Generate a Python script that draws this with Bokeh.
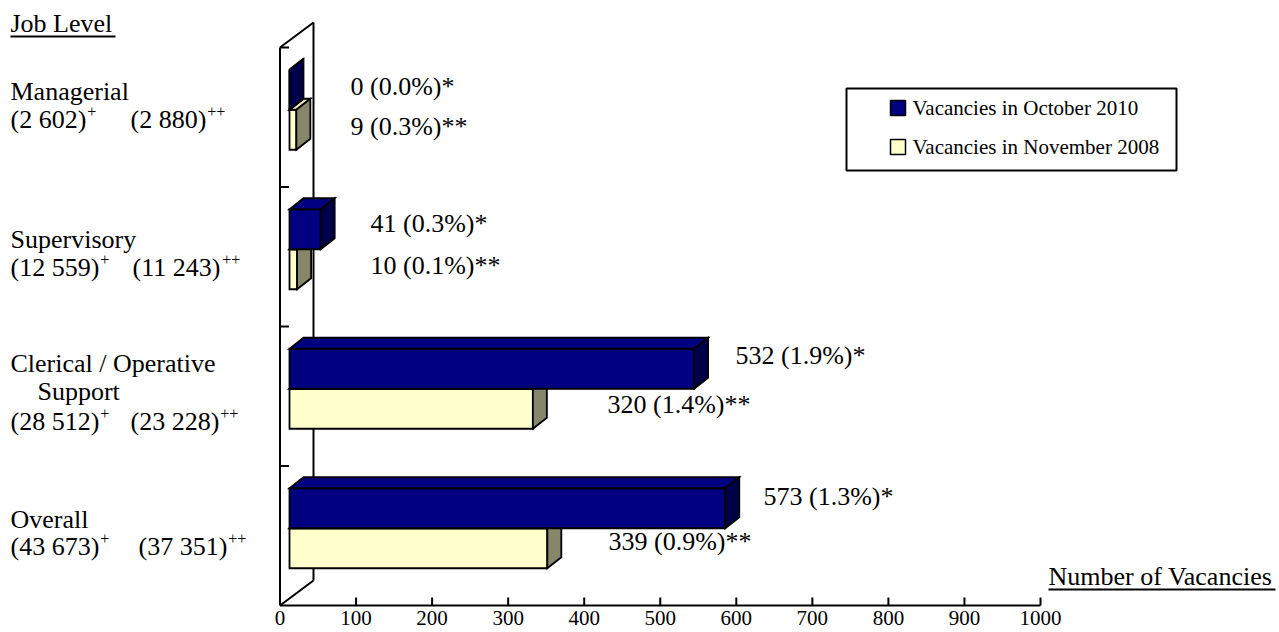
from bokeh.plotting import figure
from bokeh.models import Range1d
from bokeh.core.properties import value
from bokeh.embed import file_html
from bokeh.resources import INLINE

# ---------------- data ----------------
categories = ["Overall", "Clerical / Operative", "Supervisory", "Managerial"]
category_extra_line = ["", "Support", "", ""]
staff_2010 = ["43 673", "28 512", "12 559", "2 602"]      # marked +
staff_2008 = ["37 351", "23 228", "11 243", "2 880"]      # marked ++
vac_oct_2010 = [573, 532, 41, 0]
vac_nov_2008 = [339, 320, 10, 9]
pct_oct_2010 = ["1.3", "1.9", "0.3", "0.0"]
pct_nov_2008 = ["0.9", "1.4", "0.1", "0.3"]
x_ticks = [0, 100, 200, 300, 400, 500, 600, 700, 800, 900, 1000]
series_names = ["Vacancies in October 2010", "Vacancies in November 2008"]

# ---------------- layout helpers (pixel <-> data) ----------------
W, H = 1279, 632
X0PX, SX = 279.5, 0.7605      # x pixel of value 0, pixels per unit
Y0PX, SY = 605.0, 139.5       # y pixel of the axis (y=-0.5), pixels per category slot

def dxp(px):
    return px / SX

def dyp(px):
    return px / SY

def X(px):
    return (px - X0PX) / SX

def Y(px):
    return (Y0PX - px) / SY - 0.5

def YB(px, size):
    # y position for a text whose visible baseline should sit at pixel px
    return Y(px - 0.35 * size)

FONT = value("Liberation Serif")

p = figure(width=W, height=H, output_backend="svg", toolbar_location=None,
           x_range=Range1d(X(0), X(W)), y_range=Range1d(Y(H), Y(0)),
           x_axis_type=None, y_axis_type=None, min_border=0)
p.outline_line_color = None
p.grid.visible = False
p.background_fill_color = "white"
p.border_fill_color = "white"

# ---------------- wall / axes ----------------
wall_x = X(313)
p.segment(x0=[0, 0, wall_x, 0], y0=[-0.5, 3.5, Y(22), -0.5],
          x1=[0, wall_x, wall_x, wall_x], y1=[3.5, Y(22), Y(580), Y(580)],
          line_color="black", line_width=2)
# category separator ticks on left axis
sep = [i + 0.5 for i in range(len(categories))]
p.segment(x0=[0] * len(sep), y0=sep, x1=[dxp(9)] * len(sep), y1=sep,
          line_color="black", line_width=2)
# x axis
p.segment(x0=[x_ticks[0]], y0=[-0.5], x1=[x_ticks[-1]], y1=[-0.5],
          line_color="black", line_width=2)
p.segment(x0=x_ticks[1:], y0=[-0.5] * (len(x_ticks) - 1),
          x1=x_ticks[1:], y1=[-0.5 + dyp(8)] * (len(x_ticks) - 1),
          line_color="black", line_width=2)
p.text(x=x_ticks, y=[YB(625, 21)] * len(x_ticks), text=[str(t) for t in x_ticks],
       text_font=FONT, text_font_size="21px", text_align="center",
       text_baseline="alphabetic", text_color="black")

# ---------------- 3D bars ----------------
front_off = dxp(9.5)
ddx, ddy = dxp(14), dyp(11)
bar_h = dyp(40)
bound_off = dyp(7.5)

def bar_faces(v, y0, y1):
    x0 = front_off
    x1 = front_off + v
    front = ([x0, x1, x1, x0], [y0, y0, y1, y1])
    top = ([x0, x1, x1 + ddx, x0 + ddx], [y1, y1, y1 + ddy, y1 + ddy])
    side = ([x1, x1 + ddx, x1 + ddx, x1], [y0, y0 + ddy, y1 + ddy, y1])
    return front, top, side

def draw_series(vals, upper, colors):
    xs, ys, fc = [], [], []
    for i, v in enumerate(vals):
        yb = i + bound_off
        y0, y1 = (yb, yb + bar_h) if upper else (yb - bar_h, yb)
        for face, c in zip(bar_faces(v, y0, y1), colors):
            xs.append(face[0]); ys.append(face[1]); fc.append(c)
    return p.patches(xs=xs, ys=ys, fill_color=fc, line_color="black",
                     line_width=1.8, line_join="miter")

nov_colors = ["#FFFFCC", "#E8E8BC", "#86866A"]
oct_colors = ["#000080", "#000080", "#00004A"]
draw_series(vac_nov_2008, False, nov_colors)
draw_series(vac_oct_2010, True, oct_colors)

# ---------------- value labels ----------------
oct_label_px = [(763, 505), (735, 364), (370, 232), (350, 95)]
nov_label_px = [(608, 550), (607, 413), (370, 274), (350, 135)]
lx, ly, lt = [], [], []
for i in range(len(categories)):
    lx.append(X(oct_label_px[i][0])); ly.append(YB(oct_label_px[i][1], 26))
    lt.append(f"{vac_oct_2010[i]} ({pct_oct_2010[i]}%)*")
    lx.append(X(nov_label_px[i][0])); ly.append(YB(nov_label_px[i][1], 26))
    lt.append(f"{vac_nov_2008[i]} ({pct_nov_2008[i]}%)**")
p.text(x=lx, y=ly, text=lt, text_font=FONT, text_font_size="26px",
       text_align="left", text_baseline="alphabetic", text_color="black")

# ---------------- category labels ----------------
TW = {"(": 0.333, ")": 0.333, " ": 0.25}

def tw(s, size):
    return sum(TW.get(ch, 0.5) for ch in s) * size

name_base_px = [528, 372, 248, 100]
extra_base_px = [0, 400, 0, 0]
staff_base_px = [555, 430, 276, 128]
second_col_px = [138, 130, 132, 130]
cx, cy, ct = [], [], []
sx, sy, st = [], [], []
for i, name in enumerate(categories):
    cx.append(X(10)); cy.append(YB(name_base_px[i], 26)); ct.append(name)
    if category_extra_line[i]:
        cx.append(X(37)); cy.append(YB(extra_base_px[i], 26))
        ct.append(category_extra_line[i])
    a = f"({staff_2010[i]})"
    b = f"({staff_2008[i]})"
    cx.append(X(10)); cy.append(YB(staff_base_px[i], 26)); ct.append(a)
    cx.append(X(second_col_px[i])); cy.append(YB(staff_base_px[i], 26)); ct.append(b)
    sx.append(X(10 + tw(a, 26) + 1)); sy.append(YB(staff_base_px[i] - 11, 16)); st.append("+")
    sx.append(X(second_col_px[i] + tw(b, 26) + 1)); sy.append(YB(staff_base_px[i] - 11, 16)); st.append("++")
cx.append(X(10)); cy.append(YB(32, 26)); ct.append("Job Level")
cx.append(X(1048)); cy.append(YB(585, 26)); ct.append("Number of Vacancies")
p.text(x=cx, y=cy, text=ct, text_font=FONT, text_font_size="26px",
       text_align="left", text_baseline="alphabetic", text_color="black")
p.text(x=sx, y=sy, text=st, text_font=FONT, text_font_size="16px",
       text_align="left", text_baseline="alphabetic", text_color="black")
# underlines
p.segment(x0=[X(10), X(1048)], y0=[Y(36), Y(589)],
          x1=[X(115), X(1275)], y1=[Y(36), Y(589)],
          line_color="black", line_width=2)

# ---------------- legend box ----------------
p.quad(left=[X(846)], right=[X(1176)], top=[Y(88)], bottom=[Y(170)],
       fill_color="white", line_color="black", line_width=2)
p.quad(left=[X(890), X(890)], right=[X(905), X(905)],
       top=[Y(100), Y(139)], bottom=[Y(115), Y(154)],
       fill_color=[oct_colors[0], nov_colors[0]], line_color="black", line_width=1.5)
p.text(x=[X(912), X(912)], y=[YB(115, 21), YB(154, 21)], text=series_names,
       text_font=FONT, text_font_size="21px", text_align="left",
       text_baseline="alphabetic", text_color="black")

open("out.html", "w").write(file_html(p, INLINE))
